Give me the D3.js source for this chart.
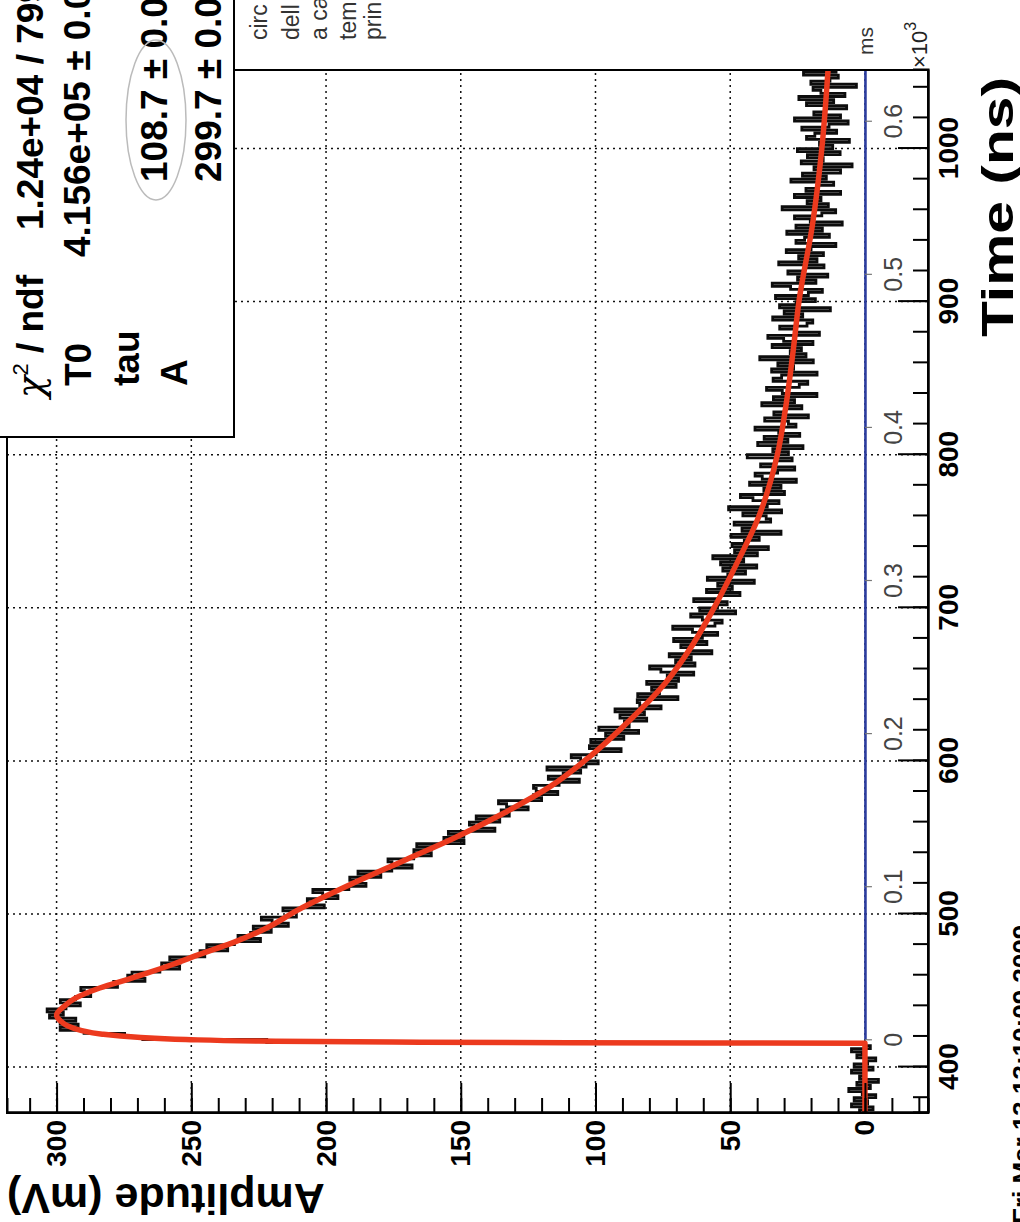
<!DOCTYPE html>
<html>
<head>
<meta charset="utf-8">
<script src="https://cdn.jsdelivr.net/npm/d3@7"></script>
<style>
  body { margin: 0; background: #fff; }
  svg { display: block; }
  text { font-family: "Liberation Sans", Arial, sans-serif; }
</style>
</head>
<body>
<div id="chart"></div>
<script>
var timeTicks = [400, 500, 600, 700, 800, 900, 1000];
var ampTicks = [0, 50, 100, 150, 200, 250, 300];
var msTicks = [0, 0.1, 0.2, 0.3, 0.4, 0.5, 0.6];

// red fitted curve, time (ns) -> amplitude (mV)
var fitTime = [370, 415.6, 415.9, 416.3, 417, 418, 419.5, 421.5, 424, 427, 430, 434,
  440, 445, 451, 456, 461, 467, 473, 481, 490, 503, 520, 535, 550, 565, 583, 603,
  627, 651, 673, 700, 731, 757, 800, 830, 870, 900, 950, 1000, 1051.3];
var fitAmp = [0, 0, 110, 175, 225, 252, 270, 283, 291, 296, 298.5, 300,
  297, 293, 285, 276, 267, 257, 248, 235, 223, 210, 190, 171, 152, 135, 117, 102,
  87, 74, 65, 56, 47, 40, 32.5, 29.5, 26.5, 24.5, 19.5, 16, 13.7];

// black histogram: spread of the data around the fit (mV), one value per 2 ns from 370 ns
var traceStart = 370, traceBin = 2;
var traceResidual = [
  2,-3,5,-1,4,-4,1,6,-2,3,-5,2,0,5,-3,4,-1,-4,3,1,
  5,-2,0,-3,4,-5,2,6,-4,1,-6,3,-2,5,-1,-5,4,0,-3,2,
  6,-4,1,-7,3,5,-2,-6,4,0,7,-3,2,-5,6,-1,-8,3,1,-4,
  5,-6,2,8,-3,-1,6,-7,0,4,-5,3,9,-2,-6,1,5,-4,7,-3,
  -8,2,6,-1,-5,4,0,8,-7,3,-2,6,-9,1,5,-4,7,-3,2,-6,
  4,9,-5,0,-7,3,6,-2,-8,5,1,-4,10,-3,-6,2,7,-1,-9,4,
  0,6,-5,3,-8,8,-2,1,-6,5,-3,9,-7,2,4,-10,6,-1,3,-5,
  7,-4,1,-8,5,10,-6,2,-3,6,-9,0,4,-5,8,-2,-7,3,11,-4,
  -6,2,7,-9,5,-1,-4,9,0,-7,6,-3,3,-10,8,1,-5,4,-8,6,
  -2,10,-6,3,-9,5,1,-4,7,-11,4,0,8,-5,-3,6,-8,12,-2,-6,
  4,9,-7,1,-5,7,-10,3,6,-2,-8,5,0,-6,11,-4,2,-9,8,-3,
  6,-7,1,10,-5,-2,7,-9,4,0,-6,9,-3,5,-11,2,8,-4,-7,6,
  3,-10,7,-1,5,-8,12,-5,1,-3,8,-7,4,10,-9,0,6,-4,-6,9,
  -2,5,-12,7,1,-6,9,-3,-8,4,11,-5,2,-9,6,0,-7,10,-4,3,
  -6,8,-1,-10,5,2,-7,9,-4,6,-11,1,7,-3,-8,12,-5,3,-2,8,
  -9,4,0,-6,10,-3,6,-8,2,-12,7,-1,5,-7,9,-4,1,-10,6,3,
  -5,8,-2,-9,11,-6,4,0,-8,7,-3,10,-7,2,5,-11,6,-1,-4,9,
  -3];

var statNames = ["T0", "tau", "A"];
var statValues = ["1.24e+04 / 7997", "4.156e+05 \u00b1 0.0", "108.7 \u00b1 0.0", "299.7 \u00b1 0.0"];
var noteWords = ["circ", "dell", "a ca", "tem", "prin"];

var width = 1020, height = 1222;
var frame = {left: 7, bottom: 1113, w: 1043, h: 921}; // w runs along time, h along amplitude

var svg = d3.select('#chart').append('svg')
    .attr('width', width)
    .attr('height', height);
svg.append('rect').attr('width', width).attr('height', height).attr('fill', '#fff');

// the sheet was scanned sideways: draw the plot upright and turn it
var plot = svg.append('g')
    .attr('transform', 'translate(' + frame.left + ',' + frame.bottom + ') rotate(-90)');

var x = d3.scaleLinear().domain([370, 1051.3]).range([0, frame.w]);
var y = d3.scaleLinear().domain([-23.4, 318.4]).range([frame.h, 0]);
var msZero = 417.5;
var ms = d3.scaleLinear().domain([0, (1051.3 - msZero) / 1000]).range([x(msZero), frame.w]);

plot.append('clipPath').attr('id', 'area')
  .append('rect').attr('width', frame.w).attr('height', frame.h);

// dotted grid
var grid = plot.append('g')
    .attr('stroke', '#111')
    .attr('stroke-width', 1.5)
    .attr('stroke-dasharray', '2,4');
grid.selectAll('.gt').data(timeTicks).enter().append('line')
    .attr('x1', function(d) { return x(d); })
    .attr('x2', function(d) { return x(d); })
    .attr('y1', 0).attr('y2', frame.h);
grid.selectAll('.ga').data(ampTicks).enter().append('line')
    .attr('x1', 0).attr('x2', frame.w)
    .attr('y1', function(d) { return y(d); })
    .attr('y2', function(d) { return y(d); });

// data histogram
var fitAt = d3.scaleLinear().domain(fitTime).range(fitAmp);
var trace = traceResidual.map(function(r, i) {
  var t = traceStart + i * traceBin;
  return {t: t, a: fitAt(t + traceBin / 2) + r};
});
trace.push({t: traceStart + traceResidual.length * traceBin, a: trace[trace.length - 1].a});

plot.append('path')
    .datum(trace)
    .attr('clip-path', 'url(#area)')
    .attr('fill', 'none')
    .attr('stroke', '#0d0d0d')
    .attr('stroke-width', 2.8)
    .attr('d', d3.line()
      .x(function(d) { return x(d.t); })
      .y(function(d) { return y(d.a); })
      .curve(d3.curveStepAfter));

// fit
var fit = fitTime.map(function(t, i) { return {t: t, a: fitAmp[i]}; });
plot.append('path')
    .datum(fit)
    .attr('clip-path', 'url(#area)')
    .attr('fill', 'none')
    .attr('stroke', '#ec3a1e')
    .attr('stroke-width', 5.5)
    .attr('stroke-linejoin', 'round')
    .attr('d', d3.line()
      .x(function(d) { return x(d.t); })
      .y(function(d) { return y(d.a); })
      .curve(d3.curveMonotoneX));

// blue ms axis drawn on the zero line
var msAxis = plot.append('g')
    .attr('transform', 'translate(0,' + y(0) + ')')
    .call(d3.axisBottom(ms).tickValues(msTicks).tickSizeInner(7).tickSizeOuter(0).tickPadding(12)
      .tickFormat(function(d) { return d === 0 ? '0' : d3.format('.1f')(d); }));
msAxis.attr('font-size', 25).attr('font-family', '"Liberation Sans Narrow", "DejaVu Sans Condensed", sans-serif');
msAxis.select('.domain').attr('stroke', '#2b3c9e').attr('stroke-width', 2.6);
msAxis.selectAll('.tick line').attr('stroke', '#777').attr('stroke-width', 1.2);
msAxis.selectAll('.tick text').attr('fill', '#444');

// main axes, ticks pointing inside
function styleAxis(g) {
  g.attr('font-size', 28).attr('font-weight', 'bold')
   .attr('font-family', '"Liberation Sans", Arial, sans-serif');
  g.selectAll('line').attr('stroke-width', 2);
  g.select('.domain').attr('stroke-width', 2);
}
plot.append('g')
    .attr('transform', 'translate(0,' + frame.h + ')')
    .call(d3.axisBottom(x).tickValues(d3.range(380, 1051, 20)).tickSize(-15).tickFormat(''))
    .call(styleAxis);
plot.append('g')
    .attr('transform', 'translate(0,' + frame.h + ')')
    .call(d3.axisBottom(x).tickValues(timeTicks).tickSizeInner(-30).tickSizeOuter(0).tickPadding(10)
      .tickFormat(d3.format('d')))
    .call(styleAxis);
plot.append('g')
    .call(d3.axisLeft(y).tickValues(d3.range(-20, 311, 10)).tickSize(-15).tickFormat(''))
    .call(styleAxis);
plot.append('g')
    .call(d3.axisLeft(y).tickValues(ampTicks).tickSizeInner(-30).tickSizeOuter(0).tickPadding(7)
      .tickFormat(d3.format('d')))
    .call(styleAxis);

plot.append('rect')
    .attr('width', frame.w).attr('height', frame.h)
    .attr('fill', 'none').attr('stroke', '#000').attr('stroke-width', 2);

// text that reads bottom to top on the scan
function sideText(px, py) {
  return svg.append('text').attr('transform', 'translate(' + px + ',' + py + ') rotate(-90)');
}

// axis titles
sideText(1013, 77).attr('text-anchor', 'end')
    .attr('font-size', 45).attr('font-weight', 'bold')
    .attr('textLength', 260).attr('lengthAdjust', 'spacingAndGlyphs')
    .text('Time (ns)');
svg.append('text')
    .attr('transform', 'translate(7,1184) rotate(180)')
    .attr('text-anchor', 'end')
    .attr('font-size', 43).attr('font-weight', 'bold')
    .text('Amplitude (mV)');

sideText(873, 27).attr('text-anchor', 'end')
    .attr('font-family', '"Liberation Serif", serif').attr('font-size', 21).attr('fill', '#333')
    .text('ms');
var expo = sideText(927, 68).attr('font-size', 22).attr('fill', '#222');
expo.append('tspan').text('\u00d710');
expo.append('tspan').attr('dy', -11).attr('font-size', 16).text('3');

// stats box
svg.append('rect')
    .attr('x', -20).attr('y', -20)
    .attr('width', 254).attr('height', 457)
    .attr('fill', '#fff').attr('stroke', '#000').attr('stroke-width', 2);

var chi = sideText(43, 398).attr('font-size', 37).attr('font-weight', 'bold');
chi.append('tspan').attr('font-family', '"DejaVu Serif", serif').attr('font-style', 'italic')
    .attr('font-weight', 'normal').text('\u03c7');
chi.append('tspan').attr('font-size', 22).attr('dy', -15).attr('font-weight', 'normal').text('2');
chi.append('tspan').attr('dy', 15).text(' / ndf');
statNames.forEach(function(n, i) {
  sideText(91 + 48 * i, 386).attr('font-size', 37).attr('font-weight', 'bold').text(n);
});
var valueStart = [230, 257, 182, 182];
var valueBase = [43, 90, 167, 221];
statValues.forEach(function(v, i) {
  sideText(valueBase[i], valueStart[i]).attr('font-size', 37).attr('font-weight', 'bold').text(v);
});
// pencil mark round the tau value
svg.append('ellipse')
    .attr('cx', 156).attr('cy', 120).attr('rx', 30).attr('ry', 80)
    .attr('fill', 'none').attr('stroke', '#bbb').attr('stroke-width', 1.5);

// bits of the page text next to the plot
var noteBase = [267, 299, 327, 356, 381];
noteWords.forEach(function(w, i) {
  sideText(noteBase[i], 40).attr('font-family', '"Liberation Serif", serif')
      .attr('font-size', 23).attr('fill', '#333').text(w);
});

sideText(1031, 1224).attr('font-size', 26).attr('font-weight', 'bold')
    .text('Fri Mar 13 13:10:09 2009');
</script>
</body>
</html>
